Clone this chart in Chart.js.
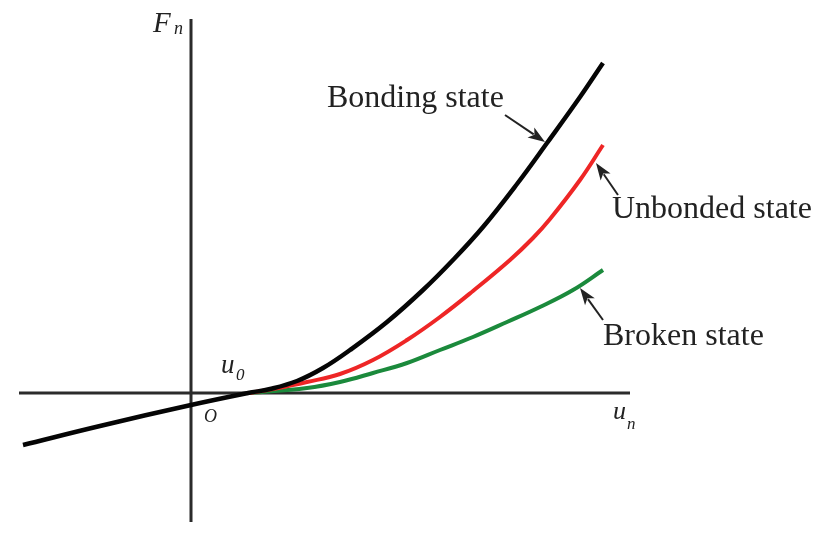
<!DOCTYPE html>
<html>
<head>
<meta charset="utf-8">
<script src="https://cdn.jsdelivr.net/npm/chart.js@4"></script>
<style>
	body { margin: 0; background: #fff; }
	#wrap { width: 832px; height: 536px; }
</style>
</head>
<body>
<div id="wrap"><canvas id="myChart"></canvas></div>
<script>
// normal force Fn against displacement un, three contact states
const bondingX = [-1.68, -0.91, 0, 0.57, 0.79, 1.06, 1.32, 1.59, 1.96, 2.32, 2.62, 2.92, 3.26, 3.56, 3.89, 4.12];
const bondingY = [-0.52, -0.33, -0.12, 0, 0.04, 0.12, 0.25, 0.43, 0.71, 1.03, 1.33, 1.66, 2.09, 2.50, 2.96, 3.30];

const unbondedX = [0.59, 0.82, 1.16, 1.49, 1.82, 2.16, 2.49, 2.82, 3.19, 3.42, 3.59, 3.89, 4.12];
const unbondedY = [0, 0.04, 0.11, 0.19, 0.33, 0.53, 0.76, 1.02, 1.33, 1.55, 1.74, 2.13, 2.48];

const brokenX = [0.59, 1.16, 1.49, 1.82, 2.16, 2.49, 2.82, 3.16, 3.49, 3.82, 4.12];
const brokenY = [0, 0.05, 0.11, 0.20, 0.30, 0.43, 0.56, 0.71, 0.86, 1.03, 1.23];

// axis extents
const axisX = [-1.72, 4.39];
const axisY = [-1.29, 3.74];

const toPoints = (xs, ys) => xs.map((x, i) => ({ x: x, y: ys[i] }));

const serif = '"Liberation Serif", "Times New Roman", serif';

const drawArrow = (ctx, x1, y1, x2, y2) => {
	let ang = Math.atan2(y2 - y1, x2 - x1);
	let len = 17;
	let half = 6;
	let c = Math.cos(ang), s = Math.sin(ang);
	ctx.beginPath();
	ctx.moveTo(x1, y1);
	ctx.lineTo(x2 - c * len * 0.8, y2 - s * len * 0.8);
	ctx.lineWidth = 2;
	ctx.stroke();
	ctx.beginPath();
	ctx.moveTo(x2, y2);
	ctx.lineTo(x2 - c * len - s * half, y2 - s * len + c * half);
	ctx.lineTo(x2 - c * len * 0.75, y2 - s * len * 0.75);
	ctx.lineTo(x2 - c * len + s * half, y2 - s * len - c * half);
	ctx.closePath();
	ctx.fill();
}

const axesPlugin = {
	id: "axesLines",
	beforeDatasetsDraw(chart) {
		let ctx = chart.ctx;
		let sx = chart.scales.x;
		let sy = chart.scales.y;
		ctx.save();
		ctx.strokeStyle = "#2b2b2b";
		ctx.lineWidth = 3;
		ctx.beginPath();
		ctx.moveTo(sx.getPixelForValue(axisX[0]), sy.getPixelForValue(0));
		ctx.lineTo(sx.getPixelForValue(axisX[1]), sy.getPixelForValue(0));
		ctx.moveTo(sx.getPixelForValue(0), sy.getPixelForValue(axisY[0]));
		ctx.lineTo(sx.getPixelForValue(0), sy.getPixelForValue(axisY[1]));
		ctx.stroke();
		ctx.restore();
	}
}

const labelsPlugin = {
	id: "stateLabels",
	afterDatasetsDraw(chart) {
		let ctx = chart.ctx;
		let sx = chart.scales.x;
		let sy = chart.scales.y;
		let px = v => sx.getPixelForValue(v);
		let py = v => sy.getPixelForValue(v);
		ctx.save();
		ctx.fillStyle = "#222";
		ctx.strokeStyle = "#222";
		ctx.textBaseline = "alphabetic";
		ctx.textAlign = "left";

		ctx.font = "32px " + serif;
		ctx.fillText("Bonding state", px(1.36), py(2.86));
		ctx.fillText("Unbonded state", px(4.21), py(1.75));
		ctx.fillText("Broken state", px(4.12), py(0.48));

		drawArrow(ctx, px(3.14), py(2.78), px(3.54), py(2.51));
		drawArrow(ctx, px(4.27), py(1.98), px(4.05), py(2.30));
		drawArrow(ctx, px(4.12), py(0.73), px(3.89), py(1.05));

		// axis symbols
		ctx.font = "italic 29px " + serif;
		ctx.fillText("F", px(-0.38), py(3.61));
		ctx.font = "italic 18px " + serif;
		ctx.fillText("n", px(-0.17), py(3.59));

		ctx.font = "italic 27px " + serif;
		ctx.fillText("u", px(0.30), py(0.20));
		ctx.font = "italic 17px " + serif;
		ctx.fillText("0", px(0.45), py(0.13));

		ctx.font = "italic 18px " + serif;
		ctx.fillText("O", px(0.13), py(-0.29));

		ctx.font = "italic 26px " + serif;
		ctx.fillText("u", px(4.22), py(-0.26));
		ctx.font = "italic 17px " + serif;
		ctx.fillText("n", px(4.36), py(-0.36));
		ctx.restore();
	}
}

const line = (xs, ys, color, w) => ({
	data: toPoints(xs, ys),
	borderColor: color,
	borderWidth: w,
	pointRadius: 0,
	showLine: true,
	fill: false,
	tension: 0.4,
	borderCapStyle: "butt"
});

let chartid = document.getElementById("myChart");
let chart = new Chart(chartid, {
	type: "scatter",
	data: {
		datasets: [
			line(bondingX, bondingY, "#050505", 4.5),
			line(unbondedX, unbondedY, "#ee2626", 4),
			line(brokenX, brokenY, "#1b8a3c", 4)
		]
	},
	options: {
		responsive: true,
		maintainAspectRatio: false,
		animation: false,
		layout: { padding: 0 },
		plugins: {
			legend: { display: false },
			tooltip: { enabled: false }
		},
		scales: {
			x: { type: "linear", min: -1.91, max: 6.41, display: false },
			y: { type: "linear", min: -1.43, max: 3.93, display: false }
		}
	},
	plugins: [axesPlugin, labelsPlugin]
});
</script>
</body>
</html>
